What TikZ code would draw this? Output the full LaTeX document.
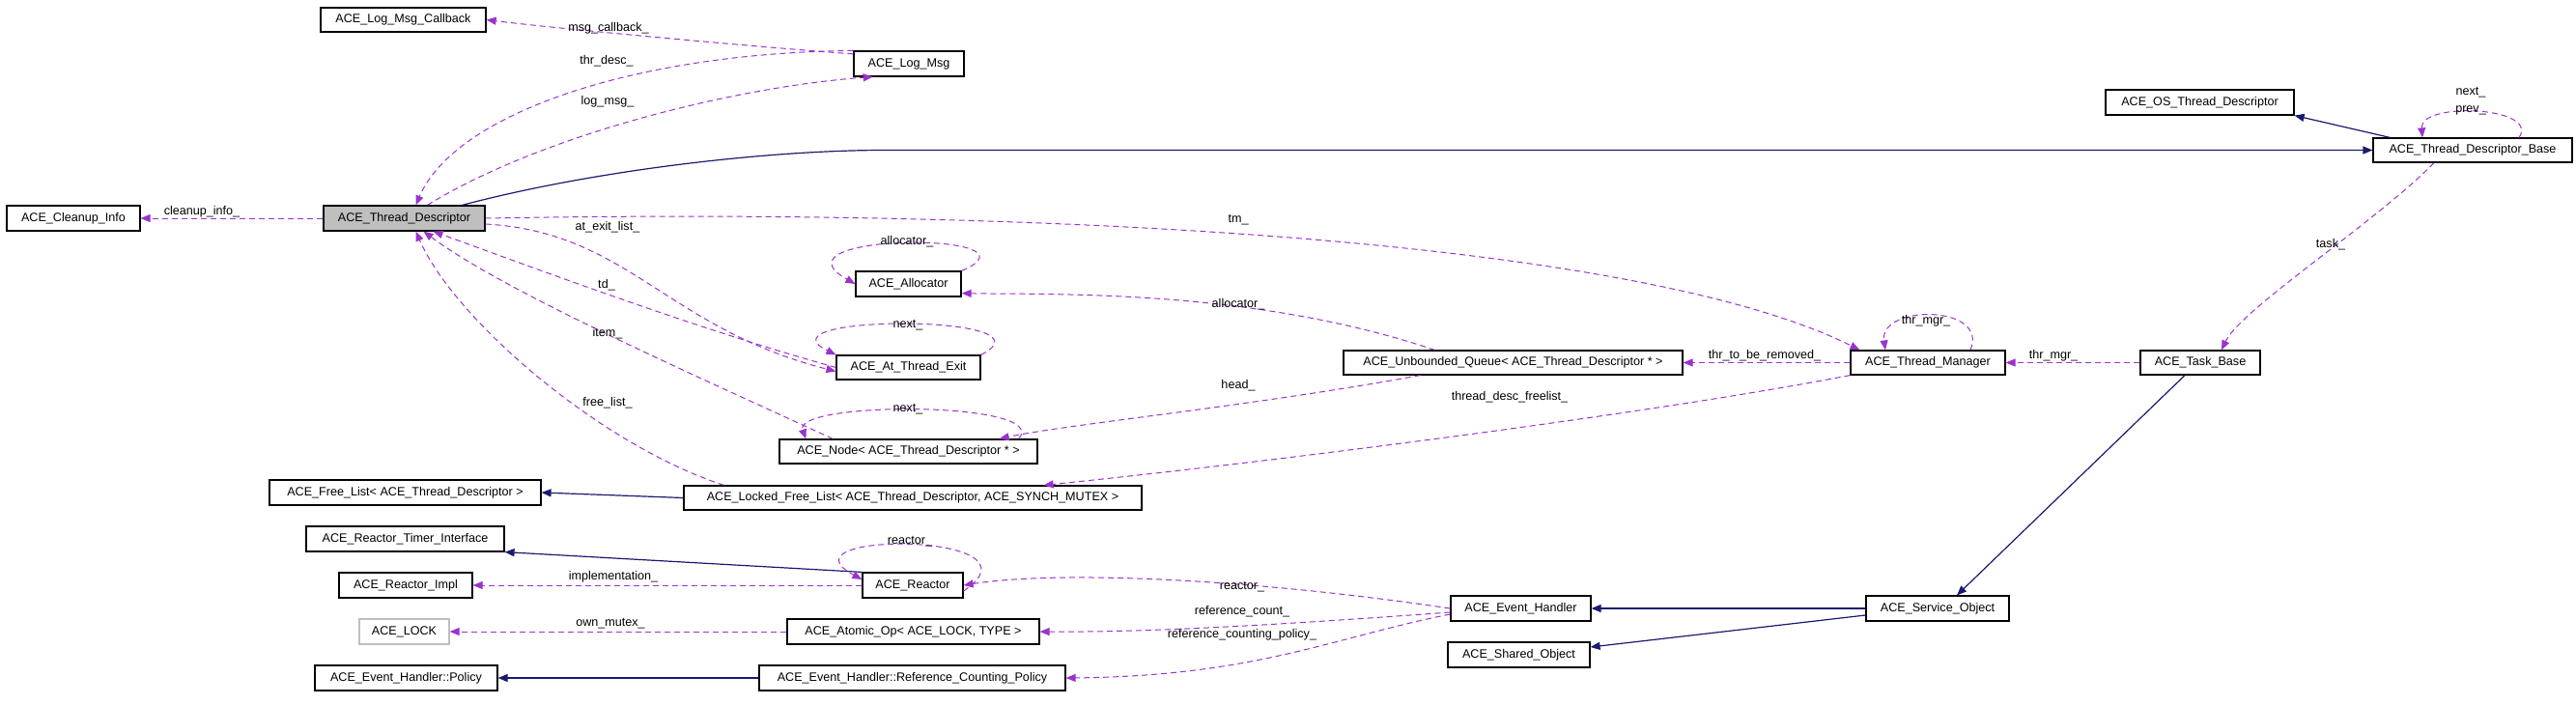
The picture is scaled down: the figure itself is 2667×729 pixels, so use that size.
\documentclass[tikz,border=0pt]{standalone}
\usepackage{fontspec}
\setmainfont{Liberation Sans}
\usetikzlibrary{arrows.meta}
\definecolor{usec}{RGB}{154,50,205}
\definecolor{inhc}{RGB}{25,25,112}
\tikzset{
 box/.style={draw=black,line width=0.6pt,fill=white,inner sep=0pt,font=\fontsize{6.3}{7}\selectfont},
 lbl/.style={inner sep=0.5pt,font=\fontsize{6.3}{7}\selectfont},
 use/.style={draw=usec,dashed,dash pattern=on 3pt off 2pt,line width=0.5pt,-{Triangle[length=5pt,width=4pt,fill=usec]}},
 inh/.style={draw=inhc,line width=0.6pt,-{Triangle[length=5pt,width=4pt,fill=inhc]}}
}
\newcommand\bx[6][]{\node[box,#1,minimum width={(#4-#2)*0.5pt},minimum height={(#5-#3)*0.5pt}] (#6) at ({(#2+#4)/2},{(#3+#5)/2}) {};}
\begin{document}
\begin{tikzpicture}[x=0.5pt,y=-0.5pt]
\useasboundingbox (0,0) rectangle (2667,729);
\bx{332}{8}{503}{33}{lmc}\node[lbl] at (lmc) {ACE\_Log\_Msg\_Callback};
\bx{884}{53}{998}{79}{lm}\node[lbl] at (lm) {ACE\_Log\_Msg};
\bx{7}{213}{145}{239}{ci}\node[lbl] at (ci) {ACE\_Cleanup\_Info};
\bx[fill={rgb,255:red,191;green,191;blue,191}]{335}{213}{502}{239}{td}\node[lbl] at (td) {ACE\_Thread\_Descriptor};
\bx{886}{281}{995}{307}{al}\node[lbl] at (al) {ACE\_Allocator};
\bx{866}{368}{1015}{393}{ate}\node[lbl] at (ate) {ACE\_At\_Thread\_Exit};
\bx{807}{455}{1074}{480}{nd}\node[lbl] at (nd) {ACE\_Node< ACE\_Thread\_Descriptor * >};
\bx{279}{497}{560}{523}{fl}\node[lbl] at (fl) {ACE\_Free\_List< ACE\_Thread\_Descriptor >};
\bx{708}{503}{1182}{528}{lfl}\node[lbl] at (lfl) {ACE\_Locked\_Free\_List< ACE\_Thread\_Descriptor, ACE\_SYNCH\_MUTEX >};
\bx{2180}{93}{2375}{119}{os}\node[lbl] at (os) {ACE\_OS\_Thread\_Descriptor};
\bx{2457}{143}{2663}{168}{tdb}\node[lbl] at (tdb) {ACE\_Thread\_Descriptor\_Base};
\bx{1391}{363}{1742}{388}{uq}\node[lbl] at (uq) {ACE\_Unbounded\_Queue< ACE\_Thread\_Descriptor * >};
\bx{1916}{363}{2076}{388}{tm}\node[lbl] at (tm) {ACE\_Thread\_Manager};
\bx{2216}{363}{2340}{388}{tb}\node[lbl] at (tb) {ACE\_Task\_Base};
\bx{317}{545}{522}{571}{rti}\node[lbl] at (rti) {ACE\_Reactor\_Timer\_Interface};
\bx{351}{593}{489}{619}{ri}\node[lbl] at (ri) {ACE\_Reactor\_Impl};
\bx{893}{593}{997}{619}{re}\node[lbl] at (re) {ACE\_Reactor};
\bx[draw={rgb,255:red,191;green,191;blue,191}]{372}{641}{465}{667}{lk}\node[lbl] at (lk) {ACE\_LOCK};
\bx{815}{641}{1076}{667}{ao}\node[lbl] at (ao) {ACE\_Atomic\_Op< ACE\_LOCK, TYPE >};
\bx{326}{689}{515}{715}{ehp}\node[lbl] at (ehp) {ACE\_Event\_Handler::Policy};
\bx{786}{689}{1103}{715}{rcp}\node[lbl] at (rcp) {ACE\_Event\_Handler::Reference\_Counting\_Policy};
\bx{1502}{617}{1647}{643}{eh}\node[lbl] at (eh) {ACE\_Event\_Handler};
\bx{1932}{617}{2080}{643}{so}\node[lbl] at (so) {ACE\_Service\_Object};
\bx{1499}{665}{1646}{691}{sh}\node[lbl] at (sh) {ACE\_Shared\_Object};
% edges
\draw[use] (lm.170) .. controls (800,50) and (580,30) .. (lmc.east);
\node[lbl] (l1) at (630,29) {msg\_callback\_};
\draw[use] (lm.north west) .. controls (650,55) and (470,120) .. ([xshift=6pt]td.north);
\node[lbl] (l2) at (628,63) {thr\_desc\_};
\draw[use] ([xshift=12pt]td.north) .. controls (560,140) and (760,90) .. (lm.200);
\node[lbl] (l3) at (629,105) {log\_msg\_};
\draw[use] (td.west) -- (ci.east);
\node[lbl] (l4) at (209,219) {cleanup\_info\_};
\coordinate (c5) at (915,155.5);
\draw[inh] ([xshift=30pt]td.north) .. controls (620,175) and (800,155.5) .. (c5) -- (tdb.west);
\draw[inh] ([xshift=9pt]tdb.north west) -- (os.south east);
\draw[use] ([xshift=24pt]tdb.north) .. controls (2630,110) and (2505,105) .. ([xshift=-26pt]tdb.north);
\node[lbl,align=center] (l7) at (2558,105) {next\_\\[2pt]prev\_};
\draw[use] ([xshift=-20pt]tdb.south) .. controls (2460,230) and (2320,320) .. ([xshift=11pt]tb.north);
\node[lbl] (l8) at (2413,253) {task\_};
\draw[use] (td.east) .. controls (1100,215) and (1700,250) .. ([xshift=5pt]tm.north west);
\node[lbl] (l9) at (1282,228) {tm\_};
\draw[use] (ate.west) .. controls (720,340) and (560,280) .. ([xshift=15pt]td.south);
\node[lbl] (l10) at (628,295) {td\_};
\draw[use] ([yshift=-3pt]td.east) .. controls (650,240) and (690,340) .. ([yshift=-2pt]ate.west);
\node[lbl] (l11) at (629,235) {at\_exit\_list\_};
\draw[use] (al.north east) .. controls (1090,240) and (790,240) .. (al.west);
\node[lbl] (l12) at (939,250) {allocator\_};
\draw[use] (ate.north east) .. controls (1100,325) and (780,325) .. (ate.north west);
\node[lbl] (l13) at (940,337) {next\_};
\draw[use] ([xshift=-40.5pt]uq.north) .. controls (1300,300) and (1100,305) .. (al.-10);
\node[lbl] (l14) at (1282,315) {allocator\_};
\draw[use] ([xshift=28pt]nd.north west) .. controls (700,380) and (520,300) .. ([xshift=10pt]td.south);
\node[lbl] (l15) at (629,345) {item\_};
\draw[use] ([xshift=-10pt]nd.north east) .. controls (1090,415) and (820,415) .. ([xshift=14pt]nd.north west);
\node[lbl] (l16) at (940,424) {next\_};
\draw[use] ([xshift=-48pt]uq.south) .. controls (1300,420) and (1100,440) .. ([xshift=-20pt]nd.north east);
\node[lbl] (l17) at (1282,399) {head\_};
\draw[use] ([xshift=21pt]lfl.north west) .. controls (620,460) and (470,330) .. ([xshift=6pt]td.south);
\node[lbl] (l18) at (629,417) {free\_list\_};
\draw[use] (tm.south west) .. controls (1700,430) and (1300,480) .. ([xshift=-51pt]lfl.north east);
\node[lbl] (l19) at (1563,411) {thread\_desc\_freelist\_};
\draw[use] (tm.west) -- (uq.east);
\node[lbl] (l20) at (1827,368) {thr\_to\_be\_removed\_};
\draw[use] ([xshift=22pt]tm.north) .. controls (2060,315) and (1945,315) .. ([xshift=-22pt]tm.north);
\node[lbl] (l21) at (1994,332) {thr\_mgr\_};
\draw[use] (tb.west) -- (tm.east);
\node[lbl] (l22) at (2126,368) {thr\_mgr\_};
\draw[inh] ([xshift=-8pt]tb.south) -- ([xshift=10pt]so.north);
\draw[inh] (lfl.west) -- (fl.east);
\draw[inh] (re.north west) -- (rti.south east);
\draw[use] (re.west) -- (ri.east);
\node[lbl] (l26) at (635,597) {implementation\_};
\draw[use] ([yshift=-3pt]re.east) .. controls (1090,550) and (800,550) .. ([yshift=3pt]re.west);
\node[lbl] (l27) at (942,561) {reactor\_};
\draw[use] (eh.west) .. controls (1300,600) and (1100,590) .. (re.east);
\node[lbl] (l28) at (1286,608) {reactor\_};
\draw[inh] (so.west) -- (eh.east);
\draw[inh] ([yshift=-3.5pt]so.west) -- ([yshift=4pt]sh.east);
\draw[use] ([yshift=-2pt]eh.west) .. controls (1350,645) and (1200,655) .. (ao.east);
\node[lbl] (l31) at (1286,633) {reference\_count\_};
\draw[use] (ao.west) -- (lk.east);
\node[lbl] (l32) at (632,646) {own\_mutex\_};
\draw[use] ([yshift=-3pt]eh.west) .. controls (1380,660) and (1300,700) .. (rcp.east);
\node[lbl] (l33) at (1286,657) {reference\_counting\_policy\_};
\draw[inh] (rcp.west) -- (ehp.east);
\end{tikzpicture}
\end{document}
